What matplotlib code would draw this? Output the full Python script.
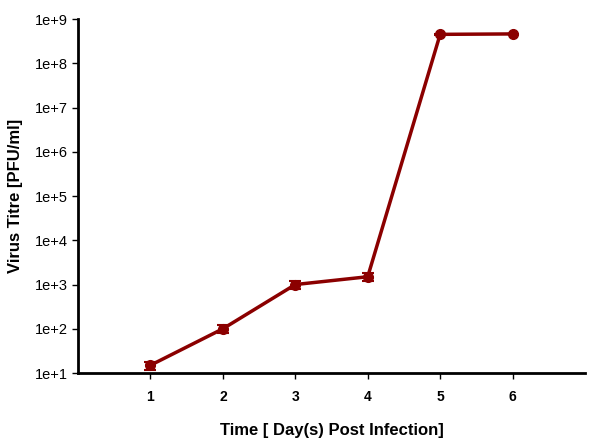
import numpy as np
import matplotlib.pyplot as plt
from matplotlib.ticker import FixedLocator, NullLocator

plt.rcParams["font.family"] = ["Liberation Sans", "DejaVu Sans"]

days = [1, 2, 3, 4, 5, 6]
titre = [15, 100, 1000, 1500, 4.5e8, 4.6e8]
err_low = [3, 20, 200, 300, 0.1e8, 0.1e8]
err_high = [3, 20, 200, 300, 0.1e8, 0.1e8]
y_ticks = [1e1, 1e2, 1e3, 1e4, 1e5, 1e6, 1e7, 1e8, 1e9]
y_labels = ["1e+1", "1e+2", "1e+3", "1e+4", "1e+5", "1e+6", "1e+7", "1e+8", "1e+9"]

color = "#8b0000"

fig = plt.figure(figsize=(6, 4.42), dpi=100)
ax = fig.add_axes([0.13, 0.156, 0.845, 0.801])

ax.errorbar(days, titre, yerr=[err_low, err_high], color=color, lw=2.5,
            marker="o", ms=7, capsize=4, elinewidth=1.5, capthick=1.5)

ax.set_yscale("log")
ax.set_ylim(1e1, 1e9)
ax.set_xlim(0, 7)
ax.yaxis.set_major_locator(FixedLocator(y_ticks))
ax.set_yticklabels(y_labels)
ax.yaxis.set_minor_locator(NullLocator())
ax.set_xticks(days)

for s in ["top", "right"]:
    ax.spines[s].set_visible(False)
for s in ["left", "bottom"]:
    ax.spines[s].set_linewidth(2)
ax.tick_params(axis="both", direction="out", length=4, width=1, labelsize=10.5)
ax.tick_params(axis="x", labelsize=10, pad=8)
for t in ax.get_xticklabels():
    t.set_fontweight("bold")

ax.set_xlabel("Time [ Day(s) Post Infection]", fontsize=12, fontweight="bold", labelpad=14)
ax.set_ylabel("Virus Titre [PFU/ml]", fontsize=12, fontweight="bold", labelpad=8)

fig.savefig("out.png", dpi=100)
